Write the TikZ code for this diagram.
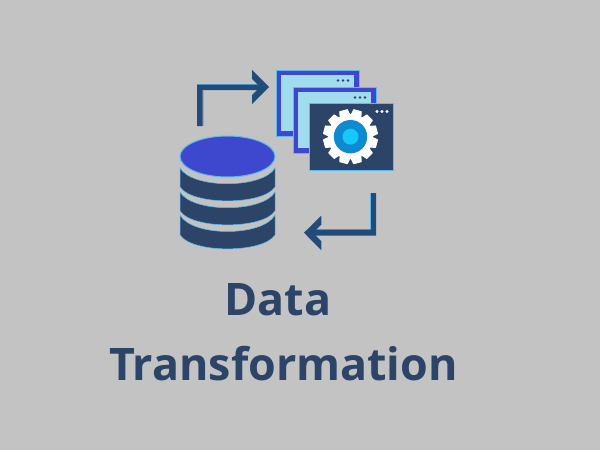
\documentclass[tikz,border=0pt]{standalone}
\usepackage{fontspec}
\setmainfont{Open Sans}
\definecolor{bgc}{HTML}{C3C3C3}
\definecolor{navy}{HTML}{2B4468}
\definecolor{arrowc}{HTML}{214C7A}
\definecolor{edge}{HTML}{5CBBEE}
\definecolor{royal}{HTML}{3E48CF}
\definecolor{pale}{HTML}{A0DCEE}
\definecolor{ringc}{HTML}{0E8AD0}
\definecolor{corec}{HTML}{14C8F8}
\tikzset{
 band/.style={fill=navy,draw=edge,line width=.5pt},
 winback/.style={fill=royal,draw=edge,line width=1pt},
 winpane/.style={fill=pale,draw=none},
 arrowfill/.style={fill=arrowc,draw=none},
 lightedge/.style={draw=edge,line width=1pt},
 dots/.style={fill=navy,draw=none},
 wdots/.style={fill=white,draw=none},
 gearpart/.style={fill=white,draw=white,line width=1pt,line join=round},
 title/.style={font=\fontsize{44.8}{54}\selectfont\bfseries,text=navy,inner sep=0pt,anchor=center}
}
\newcommand{\dbband}[4]{% top side y, top centre drop ctrl, bottom side y, bottom drop ctrl
 \path[band] (180,#1) .. controls (192,#1+#2) and (263,#1+#2) .. (275,#1) -- (275,#3)
  .. controls (263,#3+#4) and (192,#3+#4) .. (180,#3) -- cycle;}
\begin{document}
\begin{tikzpicture}[x=1pt,y=-1pt]
\useasboundingbox (0,0) rectangle (600,450);
\fill[bgc] (0,0) rectangle (600,450);
% arrow 1
\draw[lightedge] (197,84) -- (262,84);
\draw[lightedge] (203,91) -- (203,126);
\draw[lightedge] (252,70) -- (252,79);
\draw[lightedge] (252,95) -- (252,104);
\path[arrowfill] (197,126) -- (197,84.5) -- (263,84.5) -- (263,90) -- (202.5,90) -- (202.5,126) -- cycle;
\path[arrowfill] (269,87) -- (252,70) -- (252,79) -- (260,87) -- (252,95) -- (252,104) -- cycle;
% arrow 2
\draw[lightedge] (370.5,193) -- (370.5,229);
\draw[lightedge] (312,229) -- (370.5,229);
\draw[lightedge] (321,216) -- (321,225);
\draw[lightedge] (321,241) -- (321,250);
\path[arrowfill] (376,193) -- (376,235.5) -- (310,235.5) -- (310,229.5) -- (371,229.5) -- (371,193) -- cycle;
\path[arrowfill] (304,232.7) -- (321,216) -- (321,225) -- (313,232.7) -- (321,241) -- (321,250) -- cycle;
% database
\dbband{168}{21}{187}{18.5}
\dbband{192}{21}{211}{18.5}
\dbband{215}{22}{235}{18.5}
\path[fill=royal,draw=edge,line width=1pt] (227.5,156.5) ellipse [x radius=47.5,y radius=20.5];
% windows
\path[winback] (276,70) rectangle (359,136);
\path[winpane] (281,75) rectangle (354,131);
\foreach \x in {338,343,348} \fill[dots] (\x,80.5) circle (1.4);
\path[winback] (293,87) rectangle (376,153);
\path[winpane] (298,92) rectangle (371,148);
\foreach \x in {355,360,365} \fill[dots] (\x,97.5) circle (1.4);
\path[fill=navy,draw=edge,line width=1pt] (309.5,103.5) rectangle (393,170);
\foreach \x in {377,382,387} \fill[wdots] (\x,111.5) circle (1.7);
% gear
\fill[white] (350.5,136.7) circle (22.5);
\foreach \a in {15,45,...,345}
  \path[gearpart,rotate around={\a:(350.5,136.7)}] (346.6,109.8) -- (354.4,109.8) -- (356,118) -- (345,118) -- cycle;
\fill[ringc] (350.5,136.7) circle (16.7);
\fill[corec] (350.5,136.7) circle (8);
% text
\node[title] (data) at (278,300) {Data};
\node[title] (trans) at (283.5,364) {Transformation};
\end{tikzpicture}
\end{document}
